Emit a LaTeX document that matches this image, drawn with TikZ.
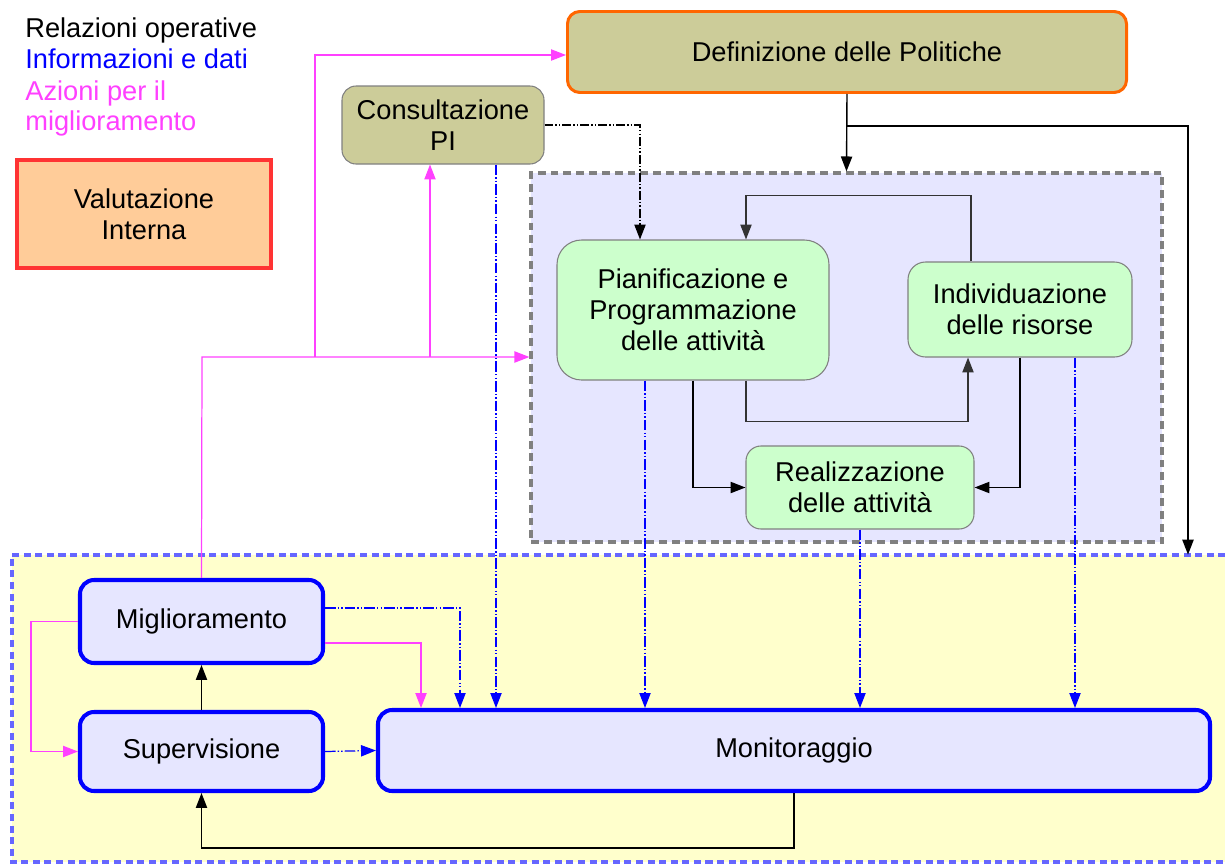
\documentclass[tikz,border=0pt]{standalone}
\usepackage{fontspec}
\setmainfont{Liberation Sans}
\usepackage{tikz}
\usetikzlibrary{arrows.meta,positioning,calc}
\definecolor{qakhaki}{HTML}{CCCC99}
\definecolor{qaorange}{HTML}{FF6600}
\definecolor{qared}{HTML}{FF3333}
\definecolor{qapeach}{HTML}{FFCC99}
\definecolor{qalav}{HTML}{E6E6FF}
\definecolor{qagreen}{HTML}{CCFFCC}
\definecolor{qayellow}{HTML}{FFFFCC}
\definecolor{qadashblue}{HTML}{6666FF}
\definecolor{qagray}{HTML}{808080}
\definecolor{qamag}{HTML}{FF40FF}
\definecolor{qadark}{HTML}{333333}
\newcommand{\qafont}{\fontsize{15.5}{17.6}\selectfont}
\tikzset{
  qabox/.style={
    rectangle, rounded corners=7pt, draw=qagray, line width=0.6pt,
    align=center, inner sep=2pt, font=\qafont, text=black
  },
  qapolicy/.style={qabox,fill=qakhaki,draw=qaorange,line width=1.7pt},
  qaconsult/.style={qabox,fill=qakhaki,rounded corners=8pt},
  qaeval/.style={qabox,rounded corners=0pt,fill=qapeach,draw=qared,line width=2.4pt},
  qaactivity/.style={qabox,fill=qagreen},
  qacontrol/.style={qabox,fill=qalav,draw=blue,line width=2.3pt,rounded corners=8pt},
  qaarea/.style={rectangle,inner sep=0pt},
  qagraydash/.style={draw=qagray,line width=1.8pt,dash pattern=on 4.5pt off 2.8pt},
  qabluedash/.style={draw=qadashblue,line width=2.2pt,dash pattern=on 4pt off 2.6pt},
  qatip/.style={-{Triangle[length=8.5pt,width=6.4pt]}},
  opedge/.style={qatip,line width=0.8pt,draw=black},
  opinner/.style={qatip,line width=0.8pt,draw=qadark},
  opdotted/.style={opedge,dash pattern=on 5pt off 1.2pt on 0.8pt off 1.2pt on 0.8pt off 1.2pt},
  infoedge/.style={qatip,line width=0.7pt,draw=blue,
    dash pattern=on 6pt off 1.2pt on 0.8pt off 1.2pt on 0.8pt off 1.2pt},
  actedge/.style={qatip,line width=0.7pt,draw=qamag},
  qalegend/.style={anchor=base west,inner sep=0pt,font=\qafont}
}

\begin{document}
\begin{tikzpicture}[x=0.2mm,y=-0.2mm]
\useasboundingbox (0,0) rectangle (1225,864);

% areas
\node[qaarea,fill=qayellow,minimum width=242.6mm,minimum height=61.4mm] (monarea) at (618.5,708.5) {};
\draw[qabluedash] (monarea.north east) -- (monarea.north west) -- (monarea.south west) -- (monarea.south east);
\node[qaarea,fill=qalav,qagraydash,minimum width=126.2mm,minimum height=73.8mm] (actarea) at (846.5,357.5) {};

% legend
\node[qalegend] (legop) at (25,37) {Relazioni operative};
\node[qalegend,text=blue] (leginfo) at (25,68) {Informazioni e dati};
\node[qalegend,text=qamag] (legact) at (25,100) {Azioni per il};
\node[qalegend,text=qamag] (legact2) at (25,130) {miglioramento};

% nodes
\node[qaeval,minimum width=50.8mm,minimum height=21.6mm] (valint) at (144,214) {Valutazione\\Interna};
\node[qapolicy,minimum width=111.8mm,minimum height=16.2mm] (defpol) at (847,52) {Definizione delle Politiche};
\node[qaconsult,minimum width=40.4mm,minimum height=15.6mm] (conspi) at (443,125) {Consultazione\\PI};
\node[qaactivity,rounded corners=14pt,minimum width=54.4mm,minimum height=28mm] (pianif) at (693,310) {Pianificazione e\\Programmazione\\delle attività};
\node[qaactivity,rounded corners=10pt,minimum width=44.8mm,minimum height=19mm] (individ) at (1020,309.5) {Individuazione\\delle risorse};
\node[qaactivity,rounded corners=8.5pt,minimum width=45.6mm,minimum height=16.6mm] (realiz) at (860,487.5) {Realizzazione\\delle attività};
\node[qacontrol,minimum width=48.6mm,minimum height=16.6mm] (miglio) at (201.5,621.5) {Miglioramento};
\node[qacontrol,minimum width=48.6mm,minimum height=15.8mm] (superv) at (201.5,751.5) {Supervisione};
\node[qacontrol,minimum width=166.4mm,minimum height=16.2mm] (monit) at (794,750.5) {Monitoraggio};

% joints
\coordinate (mjoin) at (202,357);
\coordinate (mpol) at (315,357);
\coordinate (mcons) at (430,357);
\coordinate (djoin) at (847,126);

% azioni per il miglioramento
\draw[actedge] (miglio.north) -- (mjoin) -- (actarea.west |- mjoin);
\draw[actedge] (mpol) |- (defpol.west |- 0,55);
\draw[actedge] (mcons) -- (conspi.south -| mcons);
\draw[actedge] (miglio.east |- 0,643) -| (monit.north -| 421,0);
\draw[actedge] (miglio.west) -- ++(-47,0) |- (superv.west);

% relazioni operative
\draw[opedge] (defpol.south) -- (actarea.north);
\draw[opedge] (djoin) -| (monarea.north -| 1188,0);
\draw[opdotted] (conspi.east) -| (pianif.north -| 640,0);
\draw[opinner] (individ.north -| 971,0) -- ++(0,-66) -| (pianif.north -| 746,0);
\draw[opinner] (pianif.south -| 746,0) -- ++(0,41) -| (individ.south -| 968,0);
\draw[opedge] (pianif.south) |- (realiz.west);
\draw[opedge] (individ.south) |- (realiz.east);
\draw[opedge] (superv.north) -- (miglio.south);
\draw[opedge] (monit.south) -- ++(0,55) -| (superv.south);

% informazioni e dati
\draw[infoedge] (conspi.south -| 496,0) -- (monit.north -| 496,0);
\draw[infoedge] (pianif.south -| 645,0) -- (monit.north -| 645,0);
\draw[infoedge] (realiz.south) -- (monit.north -| realiz.south);
\draw[infoedge] (individ.south -| 1075,0) -- (monit.north -| 1075,0);
\draw[infoedge] (miglio.east |- 0,608) -| (monit.north -| 460,0);
\draw[infoedge] (superv.east) -- (monit.west);
\end{tikzpicture}
\end{document}
